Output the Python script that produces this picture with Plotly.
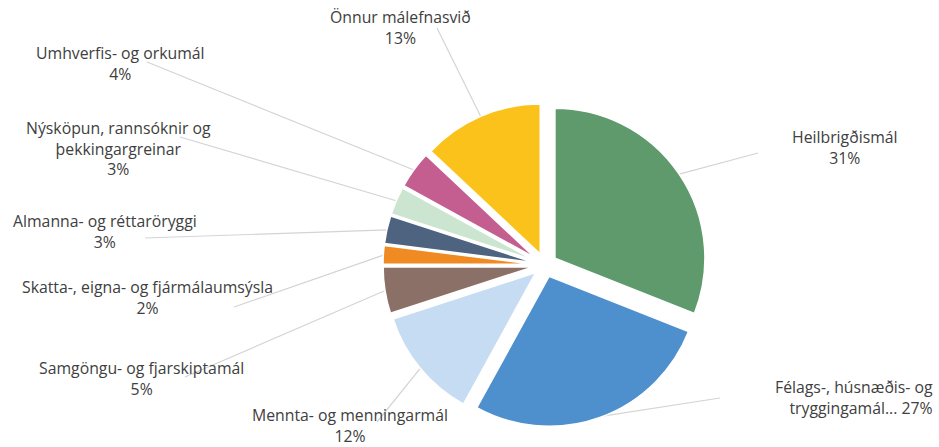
import math
import plotly.graph_objects as go

categories = ["Heilbrigðismál", "Félags-, húsnæðis- og tryggingamál", "Mennta- og menningarmál",
              "Samgöngu- og fjarskiptamál", "Skatta-, eigna- og fjármálaumsýsla",
              "Almanna- og réttaröryggi", "Nýsköpun, rannsóknir og þekkingargreinar",
              "Umhverfis- og orkumál", "Önnur málefnasvið"]
values = [31, 27, 12, 5, 2, 3, 3, 4, 13]
label_text = ["Heilbrigðismál<br>{}%", "Félags-, húsnæðis- og<br>tryggingamál... {}%",
              "Mennta- og menningarmál<br>{}%", "Samgöngu- og fjarskiptamál<br>{}%",
              "Skatta-, eigna- og fjármálaumsýsla<br>{}%", "Almanna- og réttaröryggi<br>{}%",
              "Nýsköpun, rannsóknir og<br>þekkingargreinar<br>{}%", "Umhverfis- og orkumál<br>{}%",
              "Önnur málefnasvið<br>{}%"]
colors = ["#5E9A6C", "#4E8FCD", "#C6DCF3", "#8B7067", "#F08A22",
          "#4E6380", "#CCE5D0", "#C45D90", "#FCC21C"]

W, H = 939, 447
PULL = 0.08
CX, CY, R = 545, 265, 150  # pie centre / radius in px

# label anchor positions (px) and leader line start points (px)
label_pos = [(845, 147, "center"), (935, 397, "right"), (350, 425, "center"),
             (141, 378, "center"), (147, 297, "center"), (105, 232, "center"),
             (118, 149, "center"), (120, 63, "center"), (400, 27, "center")]
line_start = [(758, 153), (720, 398), (377, 422), (185, 377), (234, 307),
              (145, 238), (180, 137), (147, 62), (437, 28)]

half = (R * (1 + PULL))
fig = go.Figure(go.Pie(
    labels=categories, values=values, sort=False, direction="clockwise", rotation=0,
    pull=[PULL] * len(values), marker=dict(colors=colors, line=dict(color="white", width=1.5)),
    textinfo="none", hoverinfo="label+percent", showlegend=False,
    domain=dict(x=[(CX - half) / W, (CX + half) / W],
                y=[(H - CY - half) / H, (H - CY + half) / H]),
))

def px2paper(x, y):
    return x / W, 1 - y / H

total = sum(values)
cum = 0
for i, v in enumerate(values):
    mid = (cum + v / 2) / total * 2 * math.pi
    cum += v
    ex = CX + R * (1 + PULL) * math.sin(mid) * 0.995
    ey = CY - R * (1 + PULL) * math.cos(mid) * 0.995
    sx, sy = line_start[i]
    p0 = px2paper(sx, sy)
    p1 = px2paper(ex, ey)
    fig.add_shape(type="line", xref="paper", yref="paper", x0=p0[0], y0=p0[1], x1=p1[0], y1=p1[1],
                  line=dict(color="#D4D4D4", width=1.2), layer="below")
    lx, ly, anc = label_pos[i]
    q = px2paper(lx, ly)
    fig.add_annotation(x=q[0], y=q[1], xref="paper", yref="paper", text=label_text[i].format(v),
                       showarrow=False, xanchor=anc, yanchor="middle", align=anc,
                       font=dict(family="Open Sans", size=15.8, color="#404040"))

fig.update_layout(width=W, height=H, margin=dict(l=0, r=0, t=0, b=0),
                  paper_bgcolor="white", plot_bgcolor="white")
fig.write_html("out.html", config={"displayModeBar": False},
               post_script="document.body.style.margin='0';document.body.style.overflow='hidden';")
